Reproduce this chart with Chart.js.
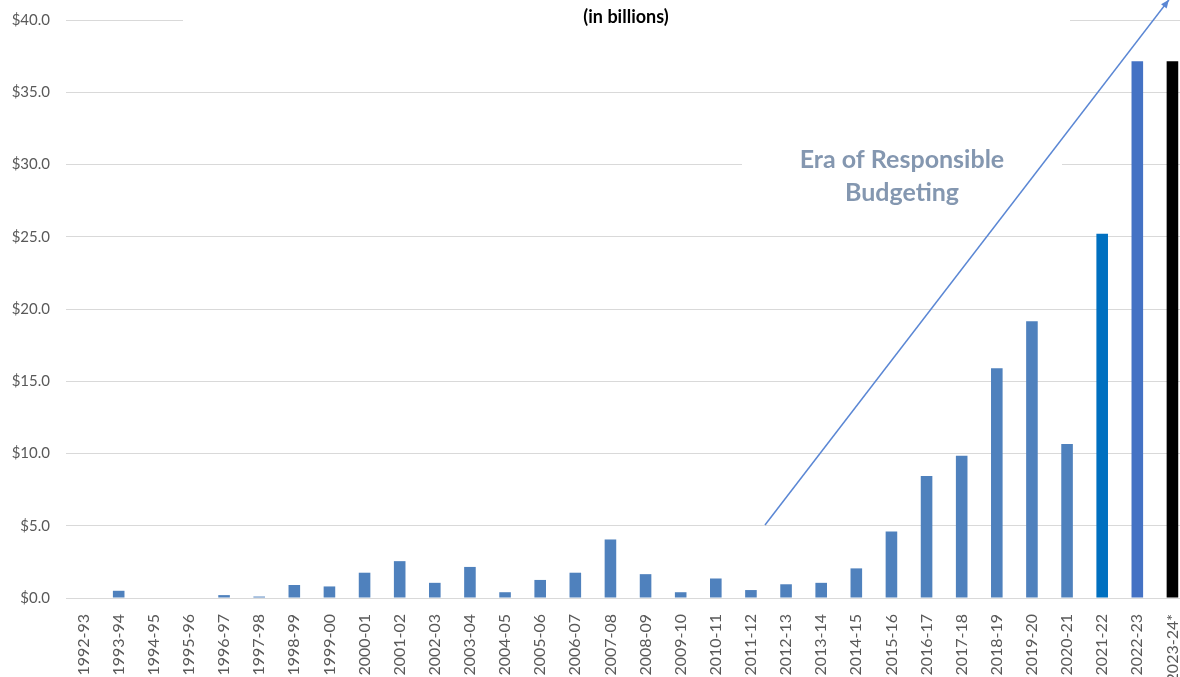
<!DOCTYPE html>
<html>
<head>
<meta charset="utf-8">
<script src="https://cdn.jsdelivr.net/npm/chart.js@4.4.1/dist/chart.umd.min.js"></script>
<style>
  html, body { margin: 0; padding: 0; background: #fff; overflow: hidden; }
  #wrap { width: 1190px; height: 677px; position: relative; }
</style>
</head>
<body>
<div id="wrap"><canvas id="surplusChart"></canvas></div>
<script>
// ==========================
// Data
// ==========================

const fiscalYears = [
  "1992-93", "1993-94", "1994-95", "1995-96", "1996-97", "1997-98", "1998-99", "1999-00",
  "2000-01", "2001-02", "2002-03", "2003-04", "2004-05", "2005-06", "2006-07", "2007-08",
  "2008-09", "2009-10", "2010-11", "2011-12", "2012-13", "2013-14", "2014-15", "2015-16",
  "2016-17", "2017-18", "2018-19", "2019-20", "2020-21", "2021-22", "2022-23", "2023-24*"
];

const amounts = [
  0, 0.5, 0, 0, 0.2, 0.1, 0.9, 0.8,
  1.75, 2.55, 1.05, 2.15, 0.4, 1.25, 1.75, 4.05,
  1.65, 0.4, 1.35, 0.55, 0.95, 1.05, 2.05, 4.6,
  8.45, 9.85, 15.9, 19.15, 10.65, 25.2, 37.15, 37.15
];

const yTicks = [0, 5, 10, 15, 20, 25, 30, 35, 40];

// bar colours (last three years highlighted)
const barColors = fiscalYears.map((y) => {
  if (y === "2021-22") return "#0070c0";
  if (y === "2022-23") return "#4472c4";
  if (y === "2023-24*") return "#000000";
  return "#4f81bd";
});

const titleText = "(in billions)";
const noteLines = ["Era of Responsible", "Budgeting"];

// arrow and note anchors, in data units (category index, value)
const arrowFrom = { x: 19.4, y: 5.05 };
const arrowTo = { x: 30.9, y: 41.4 };
const noteAt = { x: 23.3, y: 30.35 };

// ==========================
// Overlay: title, note, arrow
// ==========================

const overlayPlugin = {
  id: "overlay",
  beforeDatasetsDraw(chart) {
    const ctx = chart.ctx;
    const xs = chart.scales.x;
    const ys = chart.scales.y;
    ctx.save();
    ctx.fillStyle = "#ffffff";
    // title box hides part of top grid line
    ctx.fillRect(183, 0, 887, 28);
    // note box hides part of the $30 grid line
    const nx = xs.getPixelForValue(noteAt.x);
    const ny = ys.getPixelForValue(noteAt.y);
    ctx.fillRect(nx - 160, ny - 14, 320, 48);
    ctx.restore();
  },
  afterDatasetsDraw(chart) {
    const ctx = chart.ctx;
    const xs = chart.scales.x;
    const ys = chart.scales.y;
    ctx.save();

    // title
    ctx.fillStyle = "#000000";
    ctx.font = "bold 18px Lato";
    ctx.textAlign = "center";
    ctx.textBaseline = "middle";
    ctx.fillText(titleText, 626, 17);

    // arrow
    const x1 = xs.getPixelForValue(arrowFrom.x);
    const y1 = ys.getPixelForValue(arrowFrom.y);
    const x2 = xs.getPixelForValue(arrowTo.x);
    const y2 = ys.getPixelForValue(arrowTo.y);
    ctx.strokeStyle = "#5b87d4";
    ctx.lineWidth = 1.5;
    ctx.beginPath();
    ctx.moveTo(x1, y1);
    ctx.lineTo(x2, y2);
    ctx.stroke();
    const ang = Math.atan2(y2 - y1, x2 - x1);
    ctx.fillStyle = "#5b87d4";
    ctx.beginPath();
    ctx.moveTo(x2, y2);
    ctx.lineTo(x2 - 9 * Math.cos(ang - 0.4), y2 - 9 * Math.sin(ang - 0.4));
    ctx.lineTo(x2 - 9 * Math.cos(ang + 0.4), y2 - 9 * Math.sin(ang + 0.4));
    ctx.closePath();
    ctx.fill();

    // note
    const nx = xs.getPixelForValue(noteAt.x);
    const ny = ys.getPixelForValue(noteAt.y);
    ctx.fillStyle = "#8497b0";
    ctx.font = "bold 25px Lato";
    ctx.fillText(noteLines[0], nx, ny);
    ctx.fillText(noteLines[1], nx, ny + 33);

    ctx.restore();
  },
};

// ==========================
// Chart
// ==========================

Chart.defaults.font.family = "Lato";

new Chart(document.getElementById("surplusChart"), {
  type: "bar",

  data: {
    labels: fiscalYears,

    datasets: [
      {
        label: "Surplus",
        data: amounts,
        backgroundColor: barColors,
        borderWidth: 0,
        categoryPercentage: 1,
        barPercentage: 0.33,
      },
    ],
  },

  options: {
    responsive: true,
    maintainAspectRatio: false,
    animation: false,
    layout: {
      padding: { top: 20, right: 0, bottom: 0, left: 0 },
    },

    plugins: {
      legend: { display: false },
      tooltip: { enabled: false },
    },

    scales: {
      x: {
        grid: { display: false },
        border: { display: true, color: "#d9d9d9", width: 1 },
        ticks: {
          color: "#595959",
          font: { size: 16 },
          minRotation: 90,
          maxRotation: 90,
          autoSkip: false,
          padding: 8,
        },
        afterFit(scale) {
          scale.height = 79;
          scale.paddingLeft = 0;
          scale.paddingRight = 0;
        },
      },
      y: {
        min: 0,
        max: 40,
        afterBuildTicks(scale) {
          scale.ticks = yTicks.map((v) => ({ value: v }));
        },
        grid: { color: "#d9d9d9", lineWidth: 1, drawTicks: false },
        border: { display: false },
        ticks: {
          color: "#595959",
          font: { size: 15 },
          padding: 16,
          callback: (v) => "$" + Number(v).toFixed(1),
        },
        afterFit(scale) {
          scale.width = 66;
          scale.paddingTop = 0;
          scale.paddingBottom = 0;
        },
      },
    },
  },

  plugins: [overlayPlugin],
});
</script>
</body>
</html>
